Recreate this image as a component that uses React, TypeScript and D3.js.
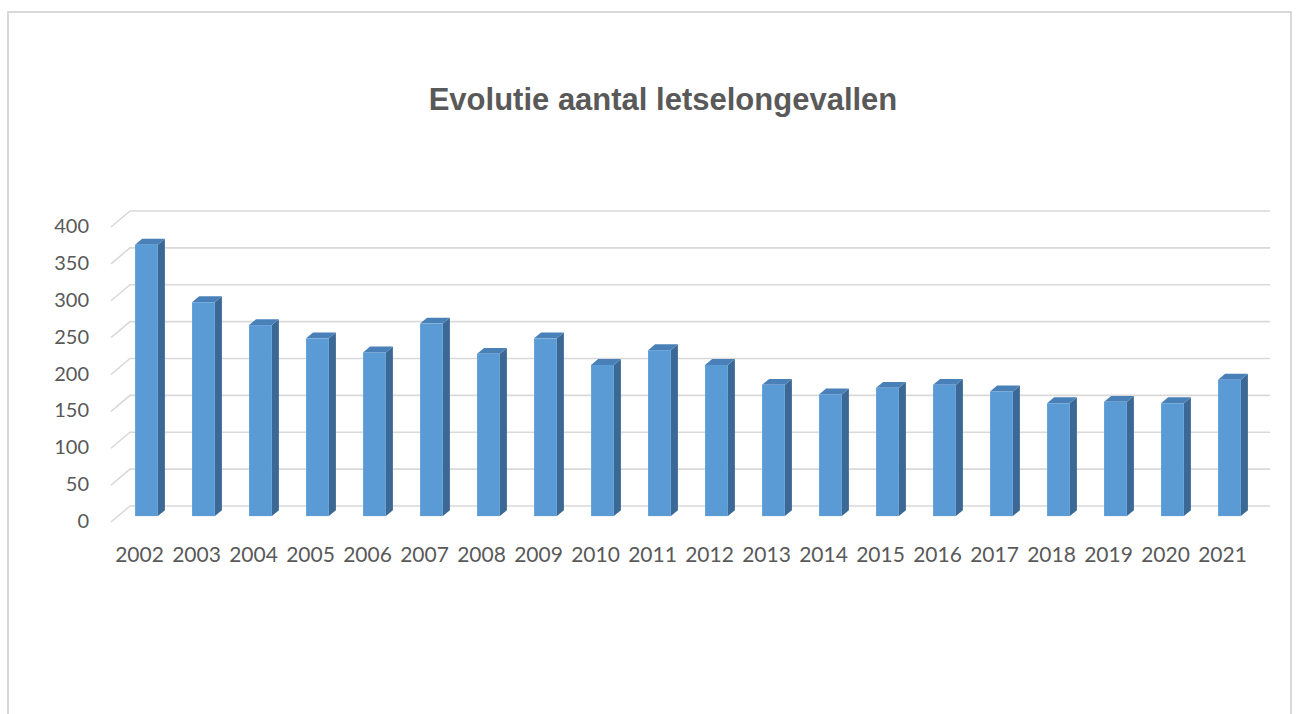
import React from "react";
import * as d3 from "d3";

// values
const years = ["2002", "2003", "2004", "2005", "2006", "2007", "2008", "2009", "2010", "2011",
	"2012", "2013", "2014", "2015", "2016", "2017", "2018", "2019", "2020", "2021"];
const accidents = [368, 290, 259, 241, 222, 261, 220, 241, 205, 225,
	205, 178, 165, 174, 178, 169, 153, 155, 153, 185];
const yTicks = [0, 50, 100, 150, 200, 250, 300, 350, 400];
const title = "Evolutie aantal letselongevallen";

const App = () => {
	const width = 1298;
	const height = 714;

	// front plane of the 3d box
	const left = 111;
	const right = 1251;
	const base = 522;
	const depthX = 19;
	const depthY = -16;

	const xScale = d3.scaleBand().domain(years).range([left, right]).padding(0);
	const yScale = d3.scaleLinear().domain([0, 400]).range([base, base - 295]);

	const barW = xScale.bandwidth() * 0.4;
	const frontFrac = 0.368;
	const backFrac = 0.737;
	const fdx = depthX * frontFrac;
	const fdy = depthY * frontFrac;
	const sdx = depthX * (backFrac - frontFrac);
	const sdy = depthY * (backFrac - frontFrac);

	const pts = (p) => p.map((d) => d.join(",")).join(" ");

	return (
		<div style={{ position: "fixed", left: 0, top: 0 }}>
			<svg width={width} height={height} style={{ display: "block", background: "#fff" }}>
				<rect x={8} y={12} width={1283} height={720} fill="#fff" stroke="#d9d9d9" strokeWidth={2} />
				<text
					x={663}
					y={110}
					textAnchor="middle"
					fontFamily="'Liberation Sans', Arial, sans-serif"
					fontWeight="bold"
					fontSize={31}
					fill="#595959"
				>
					{title}
				</text>

				{yTicks.map((t) => {
					const yf = yScale(t);
					return (
						<g key={t}>
							<path
								d={d3.line()([[left, yf], [left + depthX, yf + depthY], [right + depthX, yf + depthY]])}
								fill="none"
								stroke="#d9d9d9"
								strokeWidth={1.6}
							/>
							<text
								x={89}
								y={yf - 2}
								textAnchor="end"
								dominantBaseline="central"
								fontFamily="Lato, 'Open Sans', sans-serif"
								fontSize={20}
								fill="#595959"
							>
								{t}
							</text>
						</g>
					);
				})}

				{accidents.map((v, i) => {
					const xl = xScale(years[i]) + (xScale.bandwidth() - barW) / 2 + fdx;
					const xr = xl + barW;
					const yb = base + fdy;
					const yt = yScale(v) + fdy;
					return (
						<g key={years[i]}>
							<polygon
								points={pts([[xr, yb], [xr, yt], [xr + sdx, yt + sdy], [xr + sdx, yb + sdy]])}
								fill="#3b6894"
							/>
							<polygon
								points={pts([[xl, yt], [xr, yt], [xr + sdx, yt + sdy], [xl + sdx, yt + sdy]])}
								fill="#4a80b8"
							/>
							<rect x={xl} y={yt} width={barW} height={yb - yt} fill="#5b9bd5" />
						</g>
					);
				})}

				{years.map((yr) => (
					<text
						key={yr}
						x={xScale(yr) + xScale.bandwidth() / 2}
						y={553}
						textAnchor="middle"
						dominantBaseline="central"
						fontFamily="Lato, 'Open Sans', sans-serif"
						fontSize={21}
						fill="#595959"
					>
						{yr}
					</text>
				))}
			</svg>
		</div>
	);
};

export default App;
